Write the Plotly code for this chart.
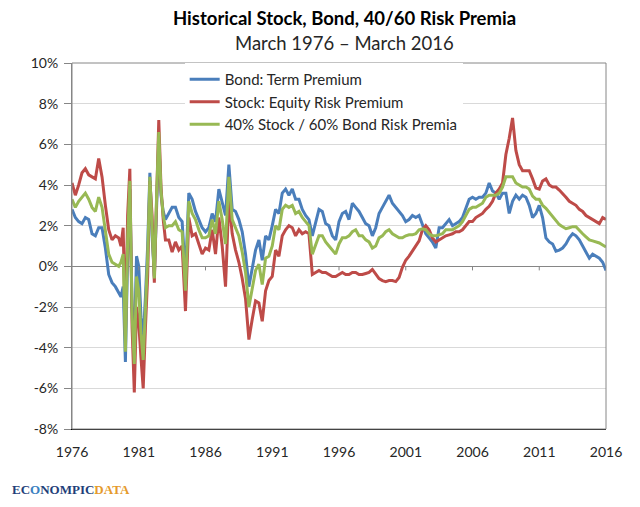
import numpy as np
import plotly.graph_objects as go

# dates: quarterly to mid-1979, every 2 months through the 1979-82 swings, then quarterly
years = np.concatenate([
    np.arange(1976.0, 1979.4, 0.25),
    np.arange(1979.5, 1982.9, 1 / 6),
    np.arange(1983.0, 2016.01, 0.25),
])

# risk premia in percent
bond = [
    2.8, 2.4, 2.2, 2.1, 2.4, 2.3, 1.6, 1.5, 1.9, 1.9, 0.9, -0.4, -0.8, -1.0,
    -1.3, -1.5, -1.0, -4.7, 0.5, 3.8, -2.0, -3.8, 0.5, 0.0, -2.5, -3.6, -1.5, 1.0,
    4.6, 1.5, -0.5, 3.2, 6.2, 3.5, 2.7,
    2.3, 2.6, 2.9, 2.9, 2.4, 2.2, -0.5, 3.6, 3.3, 2.7, 2.3, 1.9,
    1.7, 1.9, 2.6, 2.2, 3.8, 3.2, 2.5, 5.0, 2.8, 2.7, 2.3, 1.7,
    0.6, -1.0, 0.0, 0.8, 1.3, 0.3, 1.5, 1.3, 2.0, 2.8, 2.6, 3.6,
    3.8, 3.5, 3.8, 3.3, 3.3, 2.8, 2.5, 2.3, 1.5, 2.2, 2.8, 2.7,
    2.1, 2.0, 1.5, 1.3, 2.2, 2.6, 2.7, 2.3, 3.1, 2.9, 2.7, 2.4,
    2.1, 2.0, 1.5, 1.9, 2.6, 2.9, 3.2, 3.5, 3.1, 2.9, 2.7, 2.5,
    2.2, 2.3, 2.5, 2.4, 2.5, 2.0, 1.6, 1.4, 1.2, 0.9, 1.9, 1.9,
    2.1, 2.3, 2.0, 2.1, 2.2, 2.4, 2.9, 3.3, 3.4, 3.3, 3.4, 3.4,
    3.6, 4.1, 3.7, 3.6, 3.3, 3.6, 3.6, 2.6, 3.2, 3.5, 3.3, 3.5,
    3.4, 3.0, 2.4, 2.6, 3.0, 2.4, 1.4, 1.2, 1.1, 0.75, 0.8, 0.9,
    1.1, 1.4, 1.6, 1.5, 1.3, 1.0, 0.7, 0.4, 0.6, 0.5, 0.4, 0.2, -0.2,
]
stock = [
    4.1, 3.5, 4.0, 4.6, 4.8, 4.5, 4.4, 4.3, 5.3, 4.4, 3.0, 1.8, 1.3, 1.5,
    1.4, 1.0, 1.9, -3.4, 2.5, 4.8, -3.0, -6.2, -2.0, -2.8, -4.5, -6.0, -3.0, -0.5,
    4.2, 2.5, -0.8, 3.6, 7.2, 3.9, 2.3,
    1.3, 1.3, 0.7, 1.2, 0.8, 1.0, -2.2, 2.4, 1.5, 1.6, 1.1, 0.6,
    0.9, 0.8, 1.8, 0.6, 2.4, 1.0, -1.0, 3.3, 1.6, 0.8, 0.2, -0.6,
    -1.6, -3.6, -2.6, -1.7, -1.8, -2.7, -1.2, -0.7, -0.5, 0.8, 0.5, 1.5,
    1.8, 2.0, 1.9, 1.5, 1.8, 1.6, 1.7, 1.6, -0.4, -0.3, -0.2, -0.3,
    -0.3, -0.4, -0.5, -0.5, -0.4, -0.3, -0.4, -0.4, -0.3, -0.3, -0.4, -0.4,
    -0.35, -0.3, -0.15, -0.4, -0.6, -0.7, -0.75, -0.7, -0.7, -0.75, -0.55, -0.05,
    0.3, 0.5, 0.75, 1.0, 1.25, 1.8, 2.0, 1.8, 1.4, 1.2, 1.3, 1.4,
    1.5, 1.55, 1.6, 1.7, 1.7, 1.8, 2.0, 2.2, 2.2, 2.4, 2.5, 2.6,
    2.8, 2.95, 3.2, 3.6, 3.8, 4.1, 5.5, 6.3, 7.3, 5.7, 5.0, 4.7,
    4.7, 4.7, 4.3, 3.85, 3.8, 4.2, 4.3, 4.0, 3.9, 3.9, 3.75, 3.6,
    3.4, 3.2, 3.1, 3.0, 2.8, 2.7, 2.5, 2.4, 2.3, 2.2, 2.1, 2.4, 2.3,
]
blend = [
    3.3, 2.9, 3.2, 3.4, 3.6, 3.3, 2.9, 2.7, 3.4, 2.9, 1.8, 0.6, 0.2, 0.1,
    0.0, 0.2, 0.6, -4.2, 1.3, 4.2, -2.4, -4.8, -0.5, -1.2, -3.3, -4.6, -2.1, 0.4,
    4.4, 2.0, -0.6, 3.4, 6.6, 3.7, 2.5,
    1.9, 2.0, 2.0, 2.2, 1.8, 1.7, -1.2, 3.2, 2.6, 2.3, 1.8, 1.4,
    1.4, 1.5, 2.3, 1.6, 3.2, 2.3, 1.1, 4.4, 2.3, 1.9, 1.5, 0.7,
    -0.3, -2.0, -1.1, -0.2, 0.1, -0.9, 0.4, 0.5, 1.0, 2.0, 1.8, 2.8,
    3.0, 2.9, 3.0, 2.6, 2.7, 2.4, 2.2, 2.0, 0.6, 1.1, 1.5, 1.5,
    1.2, 1.0, 0.8, 0.6, 1.1, 1.4, 1.4, 1.5, 1.7, 1.8, 1.5, 1.5,
    1.3, 1.2, 0.9, 1.0, 1.4, 1.5, 1.7, 1.8, 1.6, 1.5, 1.4, 1.4,
    1.5, 1.55, 1.55, 1.6, 1.8, 1.85, 1.8, 1.6, 1.5, 1.5, 1.55, 1.6,
    1.8, 1.8, 1.8, 1.9, 2.0, 2.2, 2.5, 2.8, 2.9, 2.9, 3.0, 3.1,
    3.4, 3.5, 3.5, 3.5, 3.6, 3.9, 4.4, 4.4, 4.4, 4.1, 4.0, 3.9,
    3.9, 3.8, 3.45, 3.3, 3.3, 3.0, 2.85, 2.65, 2.45, 2.2, 2.05, 1.95,
    1.85, 1.9, 1.95, 1.95, 1.75, 1.6, 1.45, 1.3, 1.25, 1.2, 1.15, 1.05, 0.95,
]

names = ["Bond: Term Premium", "Stock: Equity Risk Premium",
         "40% Stock / 60% Bond Risk Premia"]
colors = ["#4A7EBB", "#BE4B48", "#98B954"]

xticks = list(range(1976, 2017, 5))
yticks = list(range(-8, 11, 2))

fig = go.Figure()
for vals, name, col in zip([bond, stock, blend], names, colors):
    fig.add_trace(go.Scatter(x=years, y=vals, name=name, mode="lines",
                             line=dict(color=col, width=3)))

# little tick marks hanging off the 0% line
for t in xticks[1:-1]:
    fig.add_shape(type="line", xref="x", yref="y", x0=t, x1=t, y0=0, y1=-0.2,
                  line=dict(color="#868686", width=1))

# plot border
fig.add_shape(type="rect", xref="paper", yref="paper", x0=0, x1=1, y0=0, y1=1,
              line=dict(color="#868686", width=1), layer="above")

# page has an 8px body margin, so margins are shifted to land the plot box
fig.update_layout(
    width=640, height=507,
    margin=dict(l=64, r=42, t=55, b=86),
    paper_bgcolor="white", plot_bgcolor="white",
    font=dict(family="Lato", color="#404040", size=14),
    showlegend=True,
    legend=dict(x=0.211, y=1.0, xanchor="left", yanchor="top",
                bgcolor="white", font=dict(size=15, color="#262626"),
                tracegroupgap=0),
    xaxis=dict(range=[1976, 2016], tickvals=xticks, ticks="",
               showgrid=False, showline=True, linecolor="black", linewidth=1,
               zeroline=False, ticklabelstandoff=10,
               tickfont=dict(size=14, color="#262626")),
    yaxis=dict(range=[-8, 10], tickvals=yticks,
               ticktext=[f"{v}%" for v in yticks],
               ticks="outside", ticklen=7, tickcolor="#868686",
               ticklabelstandoff=3,
               showgrid=True, gridcolor="#D9D9D9", gridwidth=1,
               zeroline=True, zerolinecolor="#868686", zerolinewidth=1,
               showline=True, linecolor="#868686", linewidth=1,
               tickfont=dict(size=14, color="#262626")),
    annotations=[
        dict(text="<b>Historical Stock, Bond, 40/60 Risk Premia</b>",
             xref="paper", yref="paper", x=0.511, y=1.123, showarrow=False,
             xanchor="center", yanchor="middle",
             font=dict(size=18.5, color="black")),
        dict(text="March 1976 \u2013 March 2016",
             xref="paper", yref="paper", x=0.511, y=1.055, showarrow=False,
             xanchor="center", yanchor="middle",
             font=dict(size=18.5, color="#262626")),
        dict(text="<b>EC<span style='color:#3A7FC1'>O</span>NOMPIC"
                  "<span style='color:#E59A2C'>DATA</span></b>",
             xref="paper", yref="paper", x=-0.116, y=-0.165, showarrow=False,
             xanchor="left", yanchor="middle",
             font=dict(family="Liberation Serif", size=13, color="#1F3F7A")),
    ],
)

fig.write_html("out.html")
